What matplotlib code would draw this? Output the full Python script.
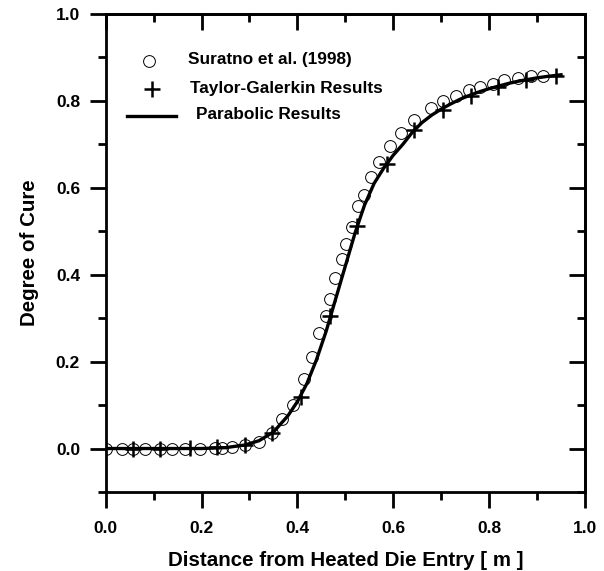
import matplotlib
matplotlib.use("Agg")
import matplotlib.pyplot as plt
from matplotlib.ticker import MultipleLocator

plt.rcParams['font.family'] = ['Liberation Sans', 'DejaVu Sans']
plt.rcParams['font.weight'] = 'bold'

# Suratno et al. (1998) - open circles
sur_x = [0.0, 0.033, 0.058, 0.082, 0.113, 0.138, 0.166, 0.197, 0.228, 0.242,
         0.264, 0.291, 0.320, 0.346, 0.368, 0.391, 0.413, 0.430, 0.446, 0.459,
         0.468, 0.478, 0.492, 0.502, 0.513, 0.526, 0.538, 0.553, 0.571, 0.594,
         0.617, 0.643, 0.678, 0.704, 0.731, 0.758, 0.782, 0.809, 0.832, 0.860,
         0.888, 0.912]
sur_y = [0.0, 0.0, 0.0, 0.0, 0.0, 0.0, 0.0, 0.0, 0.001, 0.002,
         0.004, 0.009, 0.016, 0.036, 0.067, 0.100, 0.160, 0.210, 0.265, 0.306,
         0.344, 0.393, 0.435, 0.470, 0.510, 0.557, 0.583, 0.625, 0.660, 0.695,
         0.727, 0.757, 0.783, 0.800, 0.811, 0.824, 0.831, 0.839, 0.847, 0.852,
         0.857, 0.858]

# Taylor-Galerkin results - plus markers
tg_x = [0.058, 0.114, 0.176, 0.232, 0.291, 0.347, 0.407, 0.469, 0.525, 0.586,
        0.643, 0.703, 0.762, 0.819, 0.877, 0.939]
tg_y = [0.0, 0.0, 0.001, 0.003, 0.009, 0.036, 0.119, 0.306, 0.513, 0.654,
        0.733, 0.780, 0.812, 0.831, 0.847, 0.858]

# Parabolic results - solid line
par_x = [0.0, 0.10, 0.20, 0.25, 0.29, 0.32, 0.35, 0.38, 0.40, 0.42, 0.44, 0.46,
         0.48, 0.50, 0.52, 0.54, 0.56, 0.58, 0.60, 0.62, 0.64, 0.66, 0.68, 0.70,
         0.72, 0.74, 0.76, 0.78, 0.80, 0.82, 0.84, 0.86, 0.88, 0.90, 0.92, 0.95]
par_y = [0.0, 0.0, 0.0, 0.002, 0.008, 0.018, 0.038, 0.075, 0.108, 0.150, 0.205,
         0.270, 0.345, 0.420, 0.495, 0.560, 0.610, 0.645, 0.675, 0.700, 0.728,
         0.750, 0.767, 0.781, 0.793, 0.804, 0.813, 0.821, 0.828, 0.834, 0.840,
         0.845, 0.849, 0.853, 0.856, 0.860]

tick_vals = [0.0, 0.2, 0.4, 0.6, 0.8, 1.0]
tick_labels = ["0.0", "0.2", "0.4", "0.6", "0.8", "1.0"]
legend_labels = ["Suratno et al. (1998)", "Taylor-Galerkin Results", "Parabolic Results"]

fig = plt.figure(figsize=(6.04, 5.71), dpi=100)
ax = fig.add_axes([0.1750, 0.1384, 0.7935, 0.8372])

ax.plot(par_x, par_y, color='black', lw=2.4, zorder=2)
ax.plot(sur_x, sur_y, linestyle='none', marker='o', ms=8.5, mfc='none',
        mec='black', mew=0.7, zorder=3)
ax.plot(tg_x, tg_y, linestyle='none', marker='+', ms=12, mec='black',
        mew=1.8, zorder=4)

ax.set_xlim(0.0, 1.0)
ax.set_ylim(-0.1, 1.0)
ax.set_xticks(tick_vals)
ax.set_yticks(tick_vals)
ax.set_xticklabels(tick_labels)
ax.set_yticklabels(tick_labels)
ax.xaxis.set_minor_locator(MultipleLocator(0.1))
ax.yaxis.set_minor_locator(MultipleLocator(0.1))

for s in ax.spines.values():
    s.set_linewidth(2.0)

ax.tick_params(which='major', direction='out', length=11.5, width=2.0,
               labelsize=12.5)
ax.tick_params(which='minor', direction='out', length=5.8, width=2.0)
ax.tick_params(axis='x', which='major', pad=9.5)
ax.tick_params(axis='y', which='major', pad=7)

sx = ax.secondary_xaxis('top')
sx.set_xticks(tick_vals)
sx.xaxis.set_minor_locator(MultipleLocator(0.1))
sx.tick_params(which='major', direction='in', length=11.5, width=2.0, labeltop=False)
sx.tick_params(which='minor', direction='in', length=5.8, width=2.0)
sx.spines['top'].set_linewidth(2.0)

sy = ax.secondary_yaxis('right')
sy.set_yticks(tick_vals)
sy.yaxis.set_minor_locator(MultipleLocator(0.1))
sy.tick_params(which='major', direction='in', length=11.5, width=2.0, labelright=False)
sy.tick_params(which='minor', direction='in', length=5.8, width=2.0)
sy.spines['right'].set_linewidth(2.0)

ax.set_xlabel("Distance from Heated Die Entry [ m ]", fontsize=14.8,
              fontweight='bold', labelpad=10.5)
ax.set_ylabel("Degree of Cure", fontsize=14.8, fontweight='bold', labelpad=12)

# legend drawn in axes fraction
ax.plot([0.0903], [0.9017], transform=ax.transAxes, marker='o', ms=8.5,
        mfc='none', mec='black', mew=0.7, linestyle='none', clip_on=False)
ax.text(0.1717, 0.904, legend_labels[0], transform=ax.transAxes,
        fontsize=12.4, fontweight='bold', va='center', ha='left')
ax.plot([0.0966], [0.843], transform=ax.transAxes, marker='+', ms=12,
        mec='black', mew=1.8, linestyle='none', clip_on=False)
ax.text(0.1759, 0.845, legend_labels[1], transform=ax.transAxes,
        fontsize=12.4, fontweight='bold', va='center', ha='left')
ax.plot([0.0444, 0.1467], [0.7866, 0.7866], transform=ax.transAxes,
        color='black', lw=2.4, clip_on=False)
ax.text(0.1884, 0.7887, legend_labels[2], transform=ax.transAxes,
        fontsize=12.4, fontweight='bold', va='center', ha='left')

fig.savefig("out.png", dpi=100)
